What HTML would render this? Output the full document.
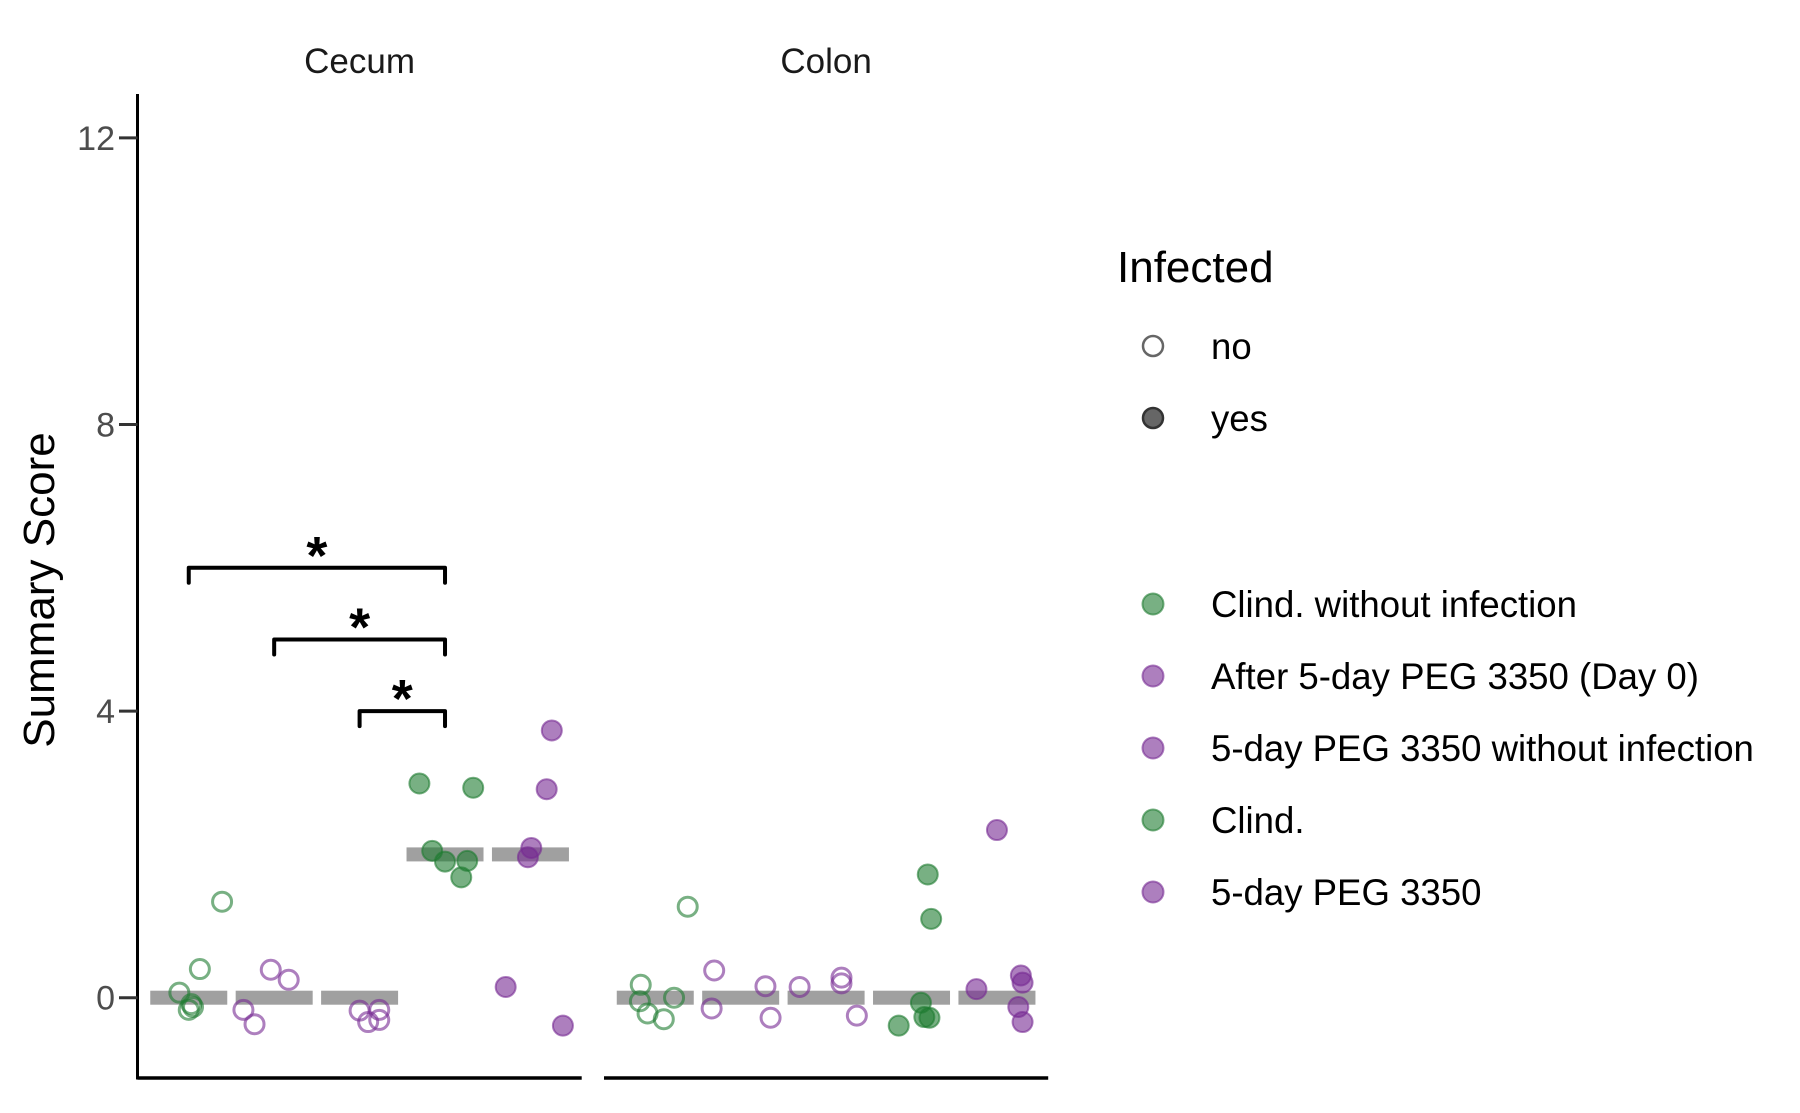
<!DOCTYPE html>
<html><head><meta charset="utf-8"><style>
html,body{margin:0;padding:0;background:#fff;}
svg{display:block;font-family:"Liberation Sans",sans-serif;}
</style></head><body>
<svg id="chart" width="1800" height="1113" viewBox="0 0 1800 1113"></svg>
<script>
const panels = ["Cecum", "Colon"];
const yTicks = [0, 4, 8, 12];
const medCecum = [0, 0, 0, 2, 2];
const medColon = [0, 0, 0, 0, 0];
const cecumCat = [0,0,0,0,0,0, 1,1,1,1, 2,2,2,2, 3,3,3,3,3,3, 4,4,4,4,4,4];
const cecumJit = [0.39,0.13,-0.11,0.03,0,0.05, -0.04,0.17,-0.36,-0.23, 0,0.23,0.1,0.23, -0.30,0.33,-0.15,0,0.26,0.19, 0.25,0.19,0.01,-0.03,-0.29,0.38];
const cecumVal = [1.34,0.40,0.07,-0.09,-0.17,-0.13, 0.39,0.25,-0.17,-0.37, -0.18,-0.17,-0.34,-0.31, 2.99,2.93,2.05,1.90,1.91,1.68, 3.73,2.91,2.09,1.96,0.15,-0.39];
const colonCat = [0,0,0,0,0,0, 1,1,1,1, 2,2,2,2, 3,3,3,3,3,3, 4,4,4,4,4,4];
const colonJit = [0.38,-0.17,-0.18,0.22,-0.09,0.10, -0.31,-0.34,0.29,0.35, -0.31,0.18,0.18,0.36, 0.19,0.23,0.11,0.15,0.21,-0.15, 0,-0.24,0.28,0.30,0.25,0.30];
const colonVal = [1.27,0.18,-0.05,0.0,-0.22,-0.30, 0.38,-0.15,0.16,-0.28, 0.15,0.28,0.20,-0.25, 1.72,1.10,-0.07,-0.27,-0.28,-0.39, 2.34,0.12,0.31,0.21,-0.13,-0.34];
const catInfected = [0, 0, 0, 1, 1];
const catColor = ["g", "p", "p", "g", "p"];
const sigStart = [0, 1, 2];
const sigEnd = [3, 3, 3];
const sigY = [6, 5, 4];
const legendLabels = ["Clind. without infection", "After 5-day PEG 3350 (Day 0)", "5-day PEG 3350 without infection", "Clind.", "5-day PEG 3350"];
const legendColors = ["g", "p", "p", "g", "p"];

const NS = "http://www.w3.org/2000/svg";
const svg = document.getElementById("chart");
const COL = {g: "#1e7b30", p: "#762a93"};
function el(tag, attrs, parent) {
  const e = document.createElementNS(NS, tag);
  for (const k in attrs) e.setAttribute(k, attrs[k]);
  (parent || svg).appendChild(e);
  return e;
}
const y0 = 997.7, yScale = 71.65;
function yPos(v) { return y0 - v * yScale; }
const panelX = [137.5, 604];
const panelW = 444.2;
const step = panelW / 5.2;
function xPos(p, c) { return panelX[p] + (c + 0.6) * step; }

let a = el("line", {x1: 137.5, y1: 94, x2: 137.5, y2: 1079.5, stroke: "#000", "stroke-width": 3});
 
yTicks.forEach(t => {
  const tk = el("line", {x1: 119, x2: 137.5, y1: yPos(t), y2: yPos(t), stroke: "#333", "stroke-width": 3});
   
  const tx = el("text", {x: 115, y: yPos(t) + 12, "text-anchor": "end", "font-size": 34, fill: "#4d4d4d"});
  tx.textContent = t;
   
});
const yt = el("text", {x: 0, y: 0, transform: "translate(54,590) rotate(-90)", "text-anchor": "middle", "font-size": 44, fill: "#000"});
yt.textContent = "Summary Score";
 

panels.forEach((name, p) => {
  const ax = el("line", {x1: panelX[p], x2: panelX[p] + panelW, y1: 1078, y2: 1078, stroke: "#000", "stroke-width": 3.5});
   
  const st = el("text", {x: panelX[p] + panelW / 2, y: 73, "text-anchor": "middle", "font-size": 35, fill: "#1a1a1a"});
  st.textContent = name;
   
  const meds = p === 0 ? medCecum : medColon;
  meds.forEach((m, c) => {
    const b = el("rect", {x: xPos(p, c) - 38.5, y: yPos(m) - 7, width: 77, height: 14, fill: "#a0a0a0"});
     
  });
  const cats = p === 0 ? cecumCat : colonCat;
  const jit = p === 0 ? cecumJit : colonJit;
  const vals = p === 0 ? cecumVal : colonVal;
  vals.forEach((v, i) => {
    const c = cats[i];
    const col = COL[catColor[c]];
    const inf = catInfected[c];
    const pt = el("circle", {cx: xPos(p, c + jit[i]), cy: yPos(v), r: inf ? 10 : 9.5,
      fill: inf ? col : "none", "fill-opacity": 0.6, stroke: col, "stroke-opacity": 0.6, "stroke-width": inf ? 2 : 3});
     
  });
});

sigY.forEach((s, i) => {
  const x1 = xPos(0, sigStart[i]), x2 = xPos(0, sigEnd[i]), yy = yPos(s);
  const br = el("path", {d: `M${x1},${yy + 15} L${x1},${yy} L${x2},${yy} L${x2},${yy + 15}`, fill: "none", stroke: "#000", "stroke-width": 4, "stroke-linecap": "round", "stroke-linejoin": "round"});
   
  const star = el("text", {x: (x1 + x2) / 2, y: yy + 6, "text-anchor": "middle", "font-size": 54, "font-weight": "bold", fill: "#000"});
  star.textContent = "*";
   
});

const lt = el("text", {x: 1117, y: 282, "font-size": 44, fill: "#000"});
lt.textContent = "Infected";
 
[["no", 346, 0], ["yes", 418, 1]].forEach(([lab, yy, f]) => {
  const k = el("circle", {cx: 1153, cy: yy, r: 10, fill: f ? "#555" : "none", "fill-opacity": f ? 0.9 : 0, stroke: f ? "#333" : "#666", "stroke-width": 2.5});
   
  const t = el("text", {x: 1211, y: yy + 13, "font-size": 36.6, fill: "#000"});
  t.textContent = lab;
   
});
legendLabels.forEach((lab, i) => {
  const yy = 604 + i * 72;
  const col = COL[legendColors[i]];
  const k = el("circle", {cx: 1153, cy: yy, r: 10.5, fill: col, "fill-opacity": 0.6, stroke: col, "stroke-opacity": 0.6, "stroke-width": 2});
   
  const t = el("text", {x: 1211, y: yy + 13, "font-size": 36.6, fill: "#000"});
  t.textContent = lab;
   
});
</script>
</body></html>
